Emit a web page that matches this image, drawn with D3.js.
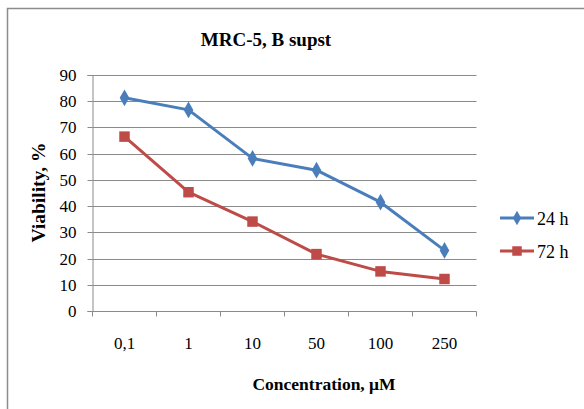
<!DOCTYPE html>
<html>
<head>
<meta charset="utf-8">
<script src="https://cdn.jsdelivr.net/npm/d3@7"></script>
<style>
  html, body { margin: 0; padding: 0; background: #fff; }
  svg { display: block; }
  svg text { font-family: 'Liberation Serif', 'Times New Roman', Times, serif !important; fill: #000; }
</style>
</head>
<body>
<svg id="chart" width="584" height="409" font-family="'Liberation Serif', 'Times New Roman', Times, serif"></svg>
<script>
// Concentration categories (µM) and viability (%) per exposure time
const concentrations = ["0,1", "1", "10", "50", "100", "250"];
const viability24h = [81.3, 76.7, 58.2, 53.7, 41.5, 23.1];
const viability72h = [66.5, 45.3, 34.1, 21.7, 15.1, 12.2];
const yTicks = [0, 10, 20, 30, 40, 50, 60, 70, 80, 90];

const FONT = "'Liberation Serif', 'Times New Roman', Times, serif";

const series = [
  { name: "24 h", values: viability24h, color: "#4A7EBB", marker: "diamond" },
  { name: "72 h", values: viability72h, color: "#BE4B48", marker: "square" }
];

const svg = d3.select("#chart");
const plot = { left: 92.5, right: 476.5, top: 75, bottom: 311 };

// Chart frame (top and left edges are visible)
svg.append("path")
  .attr("d", "M7.5,409 L7.5,8.5 L584,8.5")
  .attr("fill", "none").attr("stroke", "#8c8c8c").attr("stroke-width", 1.5);

const x = d3.scaleBand().domain(concentrations).range([plot.left, plot.right]);
const y = d3.scaleLinear().domain([0, 90]).range([plot.bottom, plot.top]);

// Horizontal gridlines
svg.append("g").selectAll("line").data(yTicks.filter(d => d > 0)).join("line")
  .attr("x1", plot.left).attr("x2", plot.right)
  .attr("y1", d => Math.round(y(d)) + 0.5).attr("y2", d => Math.round(y(d)) + 0.5)
  .attr("stroke", "#8a8a8a").attr("stroke-width", 1);

// Y axis
const yAxis = svg.append("g")
  .attr("transform", `translate(${plot.left},0)`)
  .call(d3.axisLeft(y).tickValues(yTicks).tickSize(5).tickPadding(11).tickFormat(d3.format("d")));
yAxis.attr("font-family", FONT).attr("font-size", 17);
yAxis.select(".domain").attr("stroke", "#8a8a8a");
yAxis.selectAll(".tick line").attr("stroke", "#8a8a8a");
yAxis.selectAll(".tick").attr("transform", d => `translate(0,${Math.round(y(d)) + 0.5})`);
yAxis.selectAll("text").style("font-family", FONT).style("font-size", "17px").attr("fill", "#000");

// X axis: ticks at category boundaries, labels centred below
const xAxisG = svg.append("g").attr("transform", `translate(0,${plot.bottom + 0.5})`);
xAxisG.append("line").attr("x1", plot.left).attr("x2", plot.right)
  .attr("stroke", "#8a8a8a");
const boundaries = concentrations.map(c => x(c)).concat([plot.right]);
xAxisG.selectAll("line.tk").data(boundaries).join("line").attr("class", "tk")
  .attr("x1", d => d).attr("x2", d => d).attr("y1", 0).attr("y2", 5)
  .attr("stroke", "#8a8a8a");
xAxisG.selectAll("text").data(concentrations).join("text")
  .attr("x", d => x(d) + x.bandwidth() / 2).attr("y", 37.5)
  .attr("text-anchor", "middle").style("font-family", FONT).style("font-size", "17px").text(d => d);

// Series lines and markers
const line = d3.line()
  .x((d, i) => x(concentrations[i]) + x.bandwidth() / 2)
  .y(d => y(d));

series.forEach(s => {
  svg.append("path").datum(s.values)
    .attr("d", line).attr("fill", "none")
    .attr("stroke", s.color).attr("stroke-width", 3).attr("stroke-linejoin", "round");
  const sym = s.marker === "diamond"
    ? d3.symbol().type(d3.symbolDiamond).size(80)
    : d3.symbol().type(d3.symbolSquare).size(110);
  svg.append("g").selectAll("path").data(s.values).join("path")
    .attr("d", sym)
    .attr("transform", (d, i) => `translate(${x(concentrations[i]) + x.bandwidth() / 2},${y(d)})`)
    .attr("fill", s.color);
});

// Legend
const legend = svg.append("g");
series.forEach((s, i) => {
  const ly = 218 + i * 33;
  legend.append("line").attr("x1", 500).attr("x2", 534).attr("y1", ly).attr("y2", ly)
    .attr("stroke", s.color).attr("stroke-width", 3);
  const sym = s.marker === "diamond"
    ? d3.symbol().type(d3.symbolDiamond).size(60)
    : d3.symbol().type(d3.symbolSquare).size(90);
  legend.append("path").attr("d", sym).attr("transform", `translate(517,${ly})`).attr("fill", s.color);
  legend.append("text").attr("x", 537).attr("y", ly + 7)
    .style("font-family", FONT).style("font-size", "18px").text(s.name);
});

// Titles
svg.append("text").attr("x", 266).attr("y", 46).attr("text-anchor", "middle")
  .style("font-family", FONT).style("font-size", "19px").style("font-weight", "bold").text("MRC-5, B supst");
svg.append("text").attr("x", 324).attr("y", 390).attr("text-anchor", "middle")
  .style("font-family", FONT).style("font-size", "17.5px").style("font-weight", "bold").text("Concentration, μM");
svg.append("text").attr("transform", "translate(45,192.5) rotate(-90)").attr("text-anchor", "middle")
  .style("font-family", FONT).style("font-size", "19.5px").style("font-weight", "bold").text("Viability, %");
</script>
</body>
</html>
